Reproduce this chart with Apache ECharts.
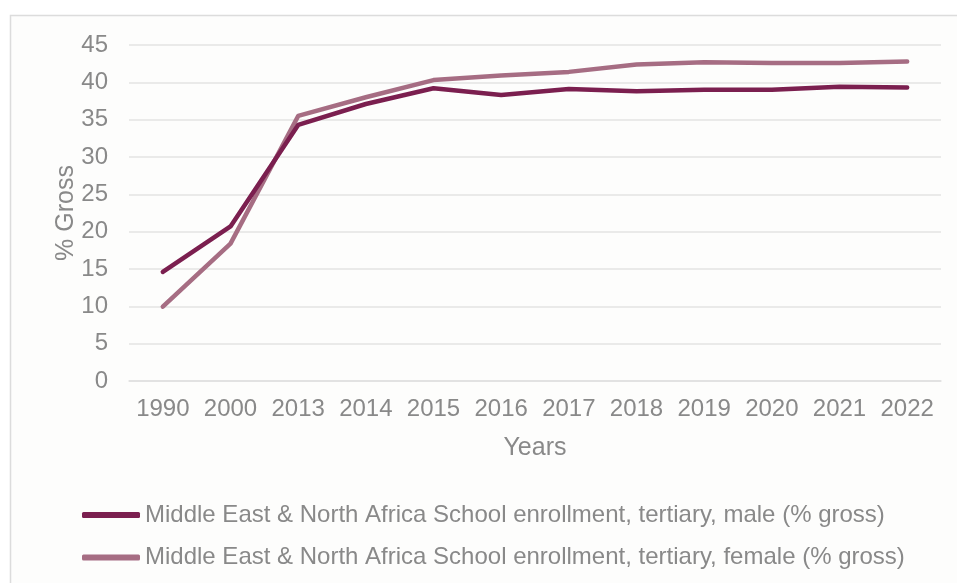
<!DOCTYPE html>
<html>
<head>
<meta charset="utf-8">
<script src="https://cdn.jsdelivr.net/npm/echarts@6/dist/echarts.min.js"></script>
<style>
html,body{margin:0;padding:0;background:#ffffff;}
#chart{width:957px;height:583px;}
</style>
</head>
<body>
<div id="chart"></div>
<script>
const years = ['1990','2000','2013','2014','2015','2016','2017','2018','2019','2020','2021','2022'];
const maleName = 'Middle East & North Africa School enrollment, tertiary, male (% gross)';
const femaleName = 'Middle East & North Africa School enrollment, tertiary, female (% gross)';
const maleValues = [14.6, 20.7, 34.3, 37.1, 39.2, 38.3, 39.1, 38.8, 39.0, 39.0, 39.4, 39.3];
const femaleValues = [9.95, 18.4, 35.5, 38.0, 40.3, 40.9, 41.4, 42.4, 42.7, 42.6, 42.6, 42.8];
const yTicks = [0, 5, 10, 15, 20, 25, 30, 35, 40, 45];

const maleColor = '#7b1f4f';
const femaleColor = '#a66d83';
const textColor = '#898989';
const font = '"Liberation Sans", Arial, sans-serif';

const chart = echarts.init(document.getElementById('chart'), null, {renderer: 'canvas'});
chart.setOption({
  backgroundColor: '#ffffff',
  animation: false,
  textStyle: {fontFamily: font},
  graphic: [{
    type: 'rect',
    z: -10,
    silent: true,
    shape: {x: 10.5, y: 15.5, width: 960, height: 600},
    style: {fill: '#fdfdfc', stroke: '#dcdcdc', lineWidth: 1.5}
  }],
  grid: {left: 129, right: 16, top: 45, bottom: 202, containLabel: false},
  legend: {
    orient: 'vertical',
    left: 82,
    top: 503,
    padding: 0,
    itemWidth: 58,
    itemHeight: 6,
    itemGap: 18.5,
    icon: 'roundRect',
    textStyle: {color: textColor, fontSize: 24, fontFamily: font},
    data: [maleName, femaleName]
  },
  xAxis: {
    type: 'category',
    data: years,
    boundaryGap: true,
    name: 'Years',
    nameLocation: 'middle',
    nameGap: 55,
    nameMoveOverlap: false,
    nameTextStyle: {color: textColor, fontSize: 25, fontFamily: font, verticalAlign: 'top'},
    axisLine: {show: true, lineStyle: {color: '#e0e0e0', width: 1.5}},
    axisTick: {show: false},
    axisLabel: {color: textColor, fontSize: 24, margin: 16, fontFamily: font, interval: 0}
  },
  yAxis: {
    type: 'value',
    min: yTicks[0],
    max: yTicks[yTicks.length - 1],
    interval: 5,
    name: '% Gross',
    nameLocation: 'middle',
    nameRotate: 90,
    nameGap: 50,
    nameMoveOverlap: false,
    nameTextStyle: {color: textColor, fontSize: 25, fontFamily: font},
    axisLine: {show: false},
    axisTick: {show: false},
    axisLabel: {color: textColor, fontSize: 24, margin: 21, fontFamily: font},
    splitLine: {show: true, lineStyle: {color: '#e3e3e3', width: 1.5}}
  },
  series: [
    {
      name: maleName,
      type: 'line',
      data: maleValues,
      symbol: 'none',
      smooth: false,
      itemStyle: {color: maleColor},
      lineStyle: {color: maleColor, width: 4.5, cap: 'round', join: 'round'},
      z: 3
    },
    {
      name: femaleName,
      type: 'line',
      data: femaleValues,
      symbol: 'none',
      smooth: false,
      itemStyle: {color: femaleColor},
      lineStyle: {color: femaleColor, width: 4.5, cap: 'round', join: 'round'},
      z: 2
    }
  ]
});
</script>
</body>
</html>
